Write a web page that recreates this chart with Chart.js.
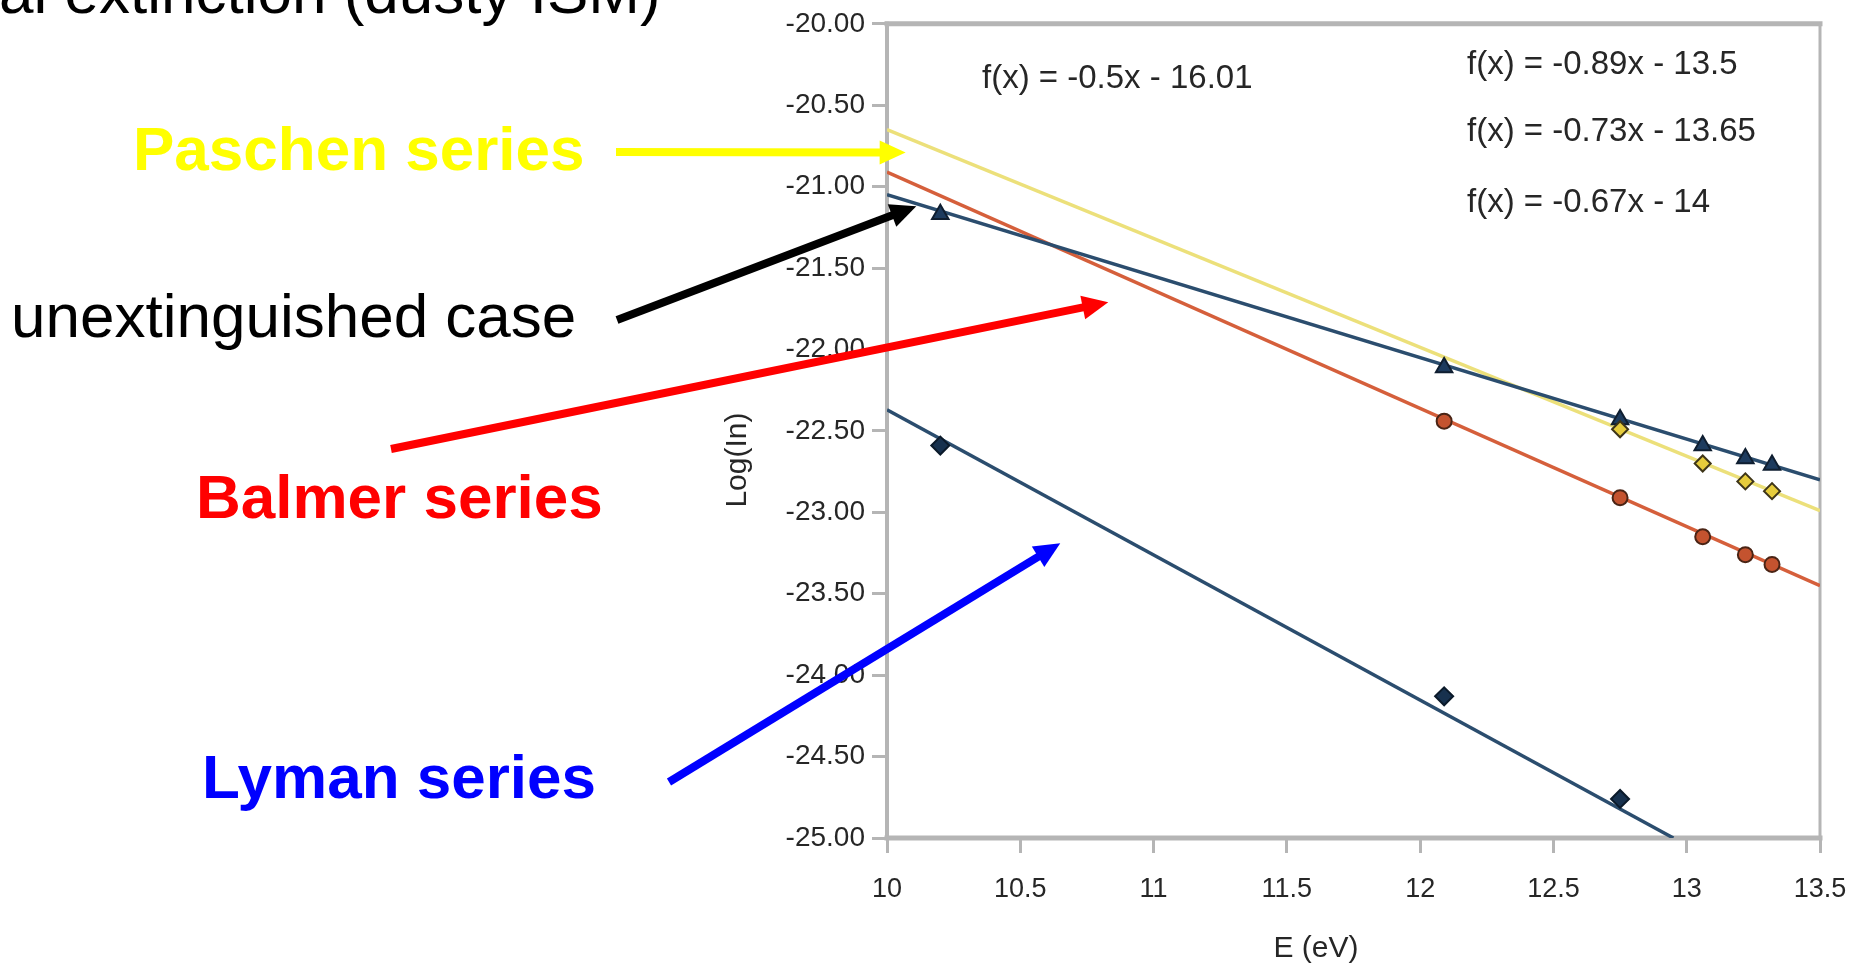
<!DOCTYPE html>
<html>
<head>
<meta charset="utf-8">
<title>Log(In) vs E (eV)</title>
<script src="https://cdn.jsdelivr.net/npm/chart.js@4.4.1/dist/chart.umd.min.js"></script>
<style>
  html, body { margin: 0; padding: 0; background: #fff; }
  #wrap { position: relative; width: 1867px; height: 967px; overflow: hidden; }
</style>
</head>
<body>
<div id="wrap"><canvas id="chart" width="1867" height="967"></canvas></div>
<script>
// ============================================================
//  Log(In) vs E (eV) - hydrogen series with trend lines
// ============================================================

// ── Data ───────────────────────────────────────────────────
const unextE   = [10.2, 12.09, 12.75, 13.06, 13.22, 13.32];
const unextLog = [-21.17, -22.11, -22.43, -22.59, -22.67, -22.71];

const lymanE   = [10.2, 12.09, 12.75];
const lymanLog = [-22.59, -24.13, -24.76];

const balmerE   = [12.09, 12.75, 13.06, 13.22, 13.32];
const balmerLog = [-22.44, -22.91, -23.15, -23.26, -23.32];

const paschenE   = [12.75, 13.06, 13.22, 13.32];
const paschenLog = [-22.49, -22.70, -22.81, -22.87];

// trend lines: end points as drawn, plus the printed equations
const fitNames  = ['unext', 'lyman', 'balmer', 'paschen'];
const fitX0     = [10, 10, 10, 10];
const fitY0     = [-21.05, -22.37, -20.91, -20.65];
const fitX1     = [13.5, 12.95, 13.5, 13.5];
const fitY1     = [-22.80, -25.0, -23.45, -22.99];
const fitLabels = ['f(x) = -0.5x - 16.01', 'f(x) = -0.89x - 13.5', 'f(x) = -0.73x - 13.65', 'f(x) = -0.67x - 14'];

const xTicks = [10, 10.5, 11, 11.5, 12, 12.5, 13, 13.5];
const yTicks = [-20, -20.5, -21, -21.5, -22, -22.5, -23, -23.5, -24, -24.5, -25];

// ── Style ──────────────────────────────────────────────────
const FONT = "'Liberation Sans', Arial, sans-serif";
const AXIS_GRAY = '#b5b5b5';
const TEXT_GRAY = '#262626';
const NAVY = '#2b4d6e';
const RED = '#d55f3b';
const YELLOW = '#ece07a';

const xMin = xTicks[0], xMax = xTicks[xTicks.length - 1];
const yMax = yTicks[0], yMin = yTicks[yTicks.length - 1];

function pts(xs, ys) { return xs.map((x, i) => ({ x, y: ys[i] })); }

function lineDs(i, color) {
    return {
        label: fitNames[i] + ' fit',
        data: [{ x: fitX0[i], y: fitY0[i] }, { x: fitX1[i], y: fitY1[i] }],
        showLine: true, borderColor: color, borderWidth: 3.5, pointRadius: 0, order: 2
    };
}
function pointDs(label, data, style, fill, edge, r) {
    return {
        label, data, showLine: false, pointStyle: style, pointRadius: r,
        backgroundColor: fill, borderColor: edge, borderWidth: 2, order: 1
    };
}

// ── Frame around the plot area ─────────────────────────────
const framePlugin = {
    id: 'frame',
    beforeDatasetsDraw(chart) {
        const { ctx, chartArea: a } = chart;
        ctx.save();
        ctx.strokeStyle = AXIS_GRAY;
        ctx.lineCap = 'square';
        const seg = (x1, y1, x2, y2, w) => {
            ctx.lineWidth = w; ctx.beginPath(); ctx.moveTo(x1, y1); ctx.lineTo(x2, y2); ctx.stroke();
        };
        seg(a.left, a.top, a.right, a.top, 5);
        seg(a.left, a.bottom, a.right, a.bottom, 5);
        seg(a.left, a.top, a.left, a.bottom, 4);
        seg(a.right, a.top, a.right, a.bottom, 3);
        ctx.restore();
    }
};

// ── Slide annotations (labels + arrows) ────────────────────
const slideTexts = [
    { text: 'al extinction (dusty ISM)', x: -1,  y: 13,  color: '#000000', bold: false },
    { text: 'Paschen series',            x: 133, y: 170, color: '#ffff00', bold: true },
    { text: 'unextinguished case',       x: 11,  y: 337, color: '#000000', bold: false },
    { text: 'Balmer series',             x: 196, y: 518, color: '#ff0000', bold: true },
    { text: 'Lyman series',              x: 202, y: 798, color: '#0000ff', bold: true }
];
// tail in page pixels, tip in data units (E, Log(In))
const slideArrows = [
    { color: '#ffff00', tail: [616, 152], tip: [10.07, -20.79] },
    { color: '#000000', tail: [617, 320], tip: [10.11, -21.12] },
    { color: '#ff0000', tail: [391, 449], tip: [10.83, -21.71] },
    { color: '#0000ff', tail: [669, 782], tip: [10.65, -23.19] }
];
const eqPos = [[982, 79], [1467, 65], [1467, 132], [1467, 203]];

function drawArrow(ctx, x1, y1, x2, y2, color) {
    const ang = Math.atan2(y2 - y1, x2 - x1);
    const head = 26, half = 12;
    ctx.save();
    ctx.strokeStyle = color; ctx.fillStyle = color;
    ctx.lineWidth = 8;
    ctx.beginPath();
    ctx.moveTo(x1, y1);
    ctx.lineTo(x2 - Math.cos(ang) * head * 0.8, y2 - Math.sin(ang) * head * 0.8);
    ctx.stroke();
    ctx.beginPath();
    ctx.moveTo(x2, y2);
    ctx.lineTo(x2 - head * Math.cos(ang) + half * Math.sin(ang), y2 - head * Math.sin(ang) - half * Math.cos(ang));
    ctx.lineTo(x2 - head * Math.cos(ang) - half * Math.sin(ang), y2 - head * Math.sin(ang) + half * Math.cos(ang));
    ctx.closePath();
    ctx.fill();
    ctx.restore();
}

const annotatePlugin = {
    id: 'annotate',
    afterDraw(chart) {
        const { ctx, scales } = chart;
        ctx.save();
        ctx.textBaseline = 'alphabetic';
        ctx.textAlign = 'left';
        slideTexts.forEach(t => {
            ctx.font = (t.bold ? 'bold ' : '') + '62px ' + FONT;
            ctx.fillStyle = t.color;
            ctx.fillText(t.text, t.x, t.y);
        });
        // trend line equations
        ctx.font = '33px ' + FONT;
        ctx.fillStyle = TEXT_GRAY;
        ctx.textBaseline = 'middle';
        fitLabels.forEach((s, i) => ctx.fillText(s, eqPos[i][0], eqPos[i][1]));
        ctx.restore();

        slideArrows.forEach(a => {
            const tx = scales.x.getPixelForValue(a.tip[0]);
            const ty = scales.y.getPixelForValue(a.tip[1]);
            drawArrow(ctx, a.tail[0], a.tail[1], tx, ty, a.color);
        });
    }
};

// ── Chart ──────────────────────────────────────────────────
new Chart(document.getElementById('chart'), {
    type: 'scatter',
    data: {
        datasets: [
            lineDs(0, NAVY),
            lineDs(1, NAVY),
            lineDs(2, RED),
            lineDs(3, YELLOW),
            pointDs('Lyman', pts(lymanE, lymanLog), 'rectRot', '#17314e', '#0b1a2a', 9),
            pointDs('Balmer', pts(balmerE, balmerLog), 'circle', '#c4532f', '#4a2415', 7.5),
            pointDs('Paschen', pts(paschenE, paschenLog), 'rectRot', '#e6cc3c', '#3e3518', 8),
            pointDs('Unextinguished', pts(unextE, unextLog), 'triangle', '#1d3b5e', '#0f1e30', 9.5)
        ]
    },
    options: {
        responsive: false,
        animation: false,
        layout: { padding: { left: 700, top: 21, right: 47, bottom: 0 } },
        plugins: { legend: { display: false }, tooltip: { enabled: false } },
        scales: {
            x: {
                type: 'linear', min: xMin, max: xMax,
                afterFit: s => { s.height = 129; },
                afterBuildTicks: s => { s.ticks = xTicks.map(v => ({ value: v })); },
                border: { display: false },
                grid: { drawOnChartArea: false, drawTicks: true, tickLength: 15, color: AXIS_GRAY, lineWidth: 3 },
                ticks: {
                    padding: 20, color: TEXT_GRAY, font: { family: FONT, size: 27 },
                    callback: v => Number.isInteger(v) ? String(v) : v.toFixed(1)
                },
                title: {
                    display: true, text: 'E (eV)' + '\u00a0'.repeat(9), color: TEXT_GRAY,
                    font: { family: FONT, size: 30 }, padding: { top: 0, bottom: 0 }
                }
            },
            y: {
                type: 'linear', min: yMin, max: yMax,
                afterFit: s => { s.width = 187; },
                afterBuildTicks: s => { s.ticks = yTicks.slice().reverse().map(v => ({ value: v })); },
                border: { display: false },
                grid: { drawOnChartArea: false, drawTicks: true, tickLength: 15, color: AXIS_GRAY, lineWidth: 3 },
                ticks: {
                    padding: 7, color: TEXT_GRAY, font: { family: FONT, size: 28 },
                    callback: v => v.toFixed(2)
                },
                title: {
                    display: true, text: 'Log(In)' + '\u00a0'.repeat(7), color: TEXT_GRAY,
                    font: { family: FONT, size: 30 }, padding: { top: 20, bottom: 0 }
                }
            }
        }
    },
    plugins: [framePlugin, annotatePlugin]
});
</script>
</body>
</html>
